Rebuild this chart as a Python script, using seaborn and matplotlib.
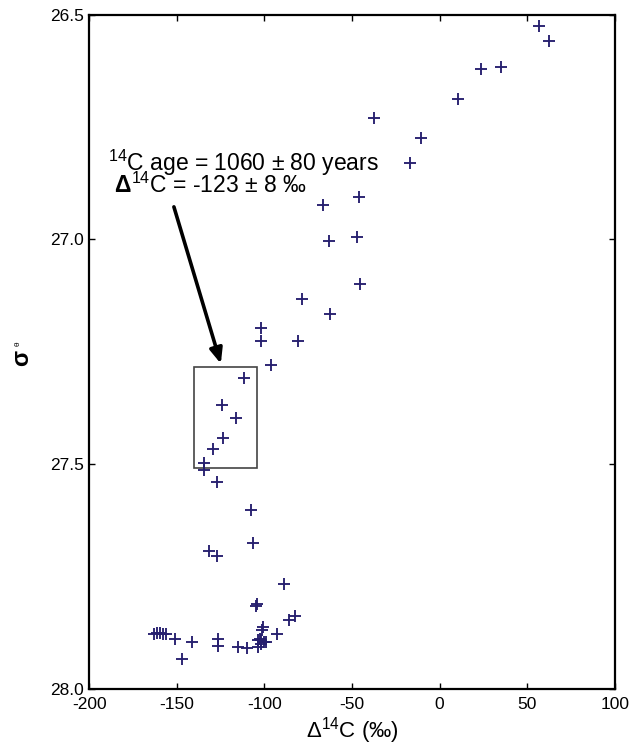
import matplotlib
matplotlib.use("Agg")
import matplotlib.pyplot as plt
import matplotlib.patches as mpatches
import seaborn as sns
import pandas as pd

# ---- data ----
delta14c = [56.8, 62.6, 23.9, 35.3, 10.8, -37.7, -10.7, -17.1, -45.8, -66.7,
            -46.9, -63.0, -45.7, -78.3, -62.7, -101.7, -101.9, -81.0, -96.1, -111.7,
            -124.5, -116.2, -123.7, -129.3, -134.4, -134.4, -127.0, -107.5, -106.3, -131.5,
            -127.2, -89.1, -104.4, -104.8, -85.7, -82.8, -101.1, -101.5, -92.6, -163.3,
            -161.4, -159.7, -157.7, -156.2, -150.8, -141.3, -126.8, -126.8, -115.2, -109.8,
            -103.6, -101.7, -99.2, -103.6, -101.7, -146.9, -102.5, -100.2]
sigma_theta = [26.526, 26.558, 26.621, 26.617, 26.689, 26.731, 26.775, 26.830, 26.907, 26.924,
               26.994, 27.004, 27.100, 27.132, 27.166, 27.198, 27.226, 27.226, 27.280, 27.309,
               27.370, 27.399, 27.442, 27.468, 27.499, 27.513, 27.541, 27.603, 27.676, 27.693,
               27.704, 27.768, 27.811, 27.816, 27.848, 27.838, 27.863, 27.870, 27.878, 27.878,
               27.877, 27.877, 27.878, 27.879, 27.889, 27.897, 27.889, 27.906, 27.907, 27.910,
               27.892, 27.891, 27.897, 27.907, 27.901, 27.935, 27.890, 27.896]

x_ticks = [-200, -150, -100, -50, 0, 50, 100]
y_ticks = [26.5, 27.0, 27.5, 28.0]
y_tick_labels = ["26.5", "27.0", "27.5", "28.0"]

box_x = [-140.3, -104.2]
box_y = [27.285, 27.510]
arrow_start = (-151.7, 26.928)
arrow_tip = (-124.9, 27.277)

line1 = r"$^{14}$C age = 1060 ± 80 years"
line2 = r" $\mathbf{\Delta}^{14}$C = -123 ± 8 ‰"

# ---- style ----
sns.set_style("ticks")
plt.rcParams["font.family"] = ["Liberation Sans", "DejaVu Sans"]
plt.rcParams["mathtext.fontset"] = "custom"
plt.rcParams["mathtext.rm"] = "Liberation Sans"
plt.rcParams["mathtext.it"] = "Liberation Sans:italic"
plt.rcParams["mathtext.bf"] = "Liberation Sans:bold"
plt.rcParams["text.color"] = "black"
plt.rcParams["axes.labelcolor"] = "black"

df = pd.DataFrame({"d14c": delta14c, "sig": sigma_theta})

fig = plt.figure(figsize=(6.43, 7.47), dpi=100)
ax = fig.add_axes([0.1389, 0.0783, 0.8171, 0.9022])

sns.scatterplot(data=df, x="d14c", y="sig", marker="+", color="#261F6E",
                s=85, linewidth=1.35, ax=ax, legend=False, zorder=3)

ax.set_xlim(-200, 100)
ax.set_ylim(28.0, 26.5)
ax.set_xticks(x_ticks)
ax.set_xticklabels([str(t) for t in x_ticks])
ax.set_yticks(y_ticks)
ax.set_yticklabels(y_tick_labels)

ax.tick_params(direction="in", length=4, width=1.0, top=True, right=True,
               labelsize=12.5, colors="black", pad=4)
ax.tick_params(axis="x", pad=6)
for sp in ax.spines.values():
    sp.set_linewidth(1.6)
    sp.set_color("black")

ax.set_xlabel(r"$\Delta^{14}$C (‰)", fontsize=16, labelpad=2)
ax.set_ylabel("")
fig.text(22 / 643, 1 - 358 / 747, "σ", rotation=90, fontsize=17,
         fontweight="bold", ha="center", va="center")
fig.text(18 / 643, 1 - 344 / 747, "θ", rotation=90, fontsize=6,
         ha="center", va="center")

# box and arrow
rect = mpatches.Rectangle((box_x[0], box_y[0]), box_x[1] - box_x[0], box_y[1] - box_y[0],
                          fill=False, edgecolor="#444444", linewidth=1.2, zorder=2)
ax.add_patch(rect)
ax.annotate("", xy=arrow_tip, xytext=arrow_start,
            arrowprops=dict(arrowstyle="-|>,head_length=0.9,head_width=0.38",
                            lw=2.6, color="black", shrinkA=0, shrinkB=0))

ax.text(-189.3, 26.897, line1 + "\n" + line2, fontsize=16.5, ha="left",
        va="baseline", linespacing=0.76)

fig.savefig("out.png", dpi=100)
